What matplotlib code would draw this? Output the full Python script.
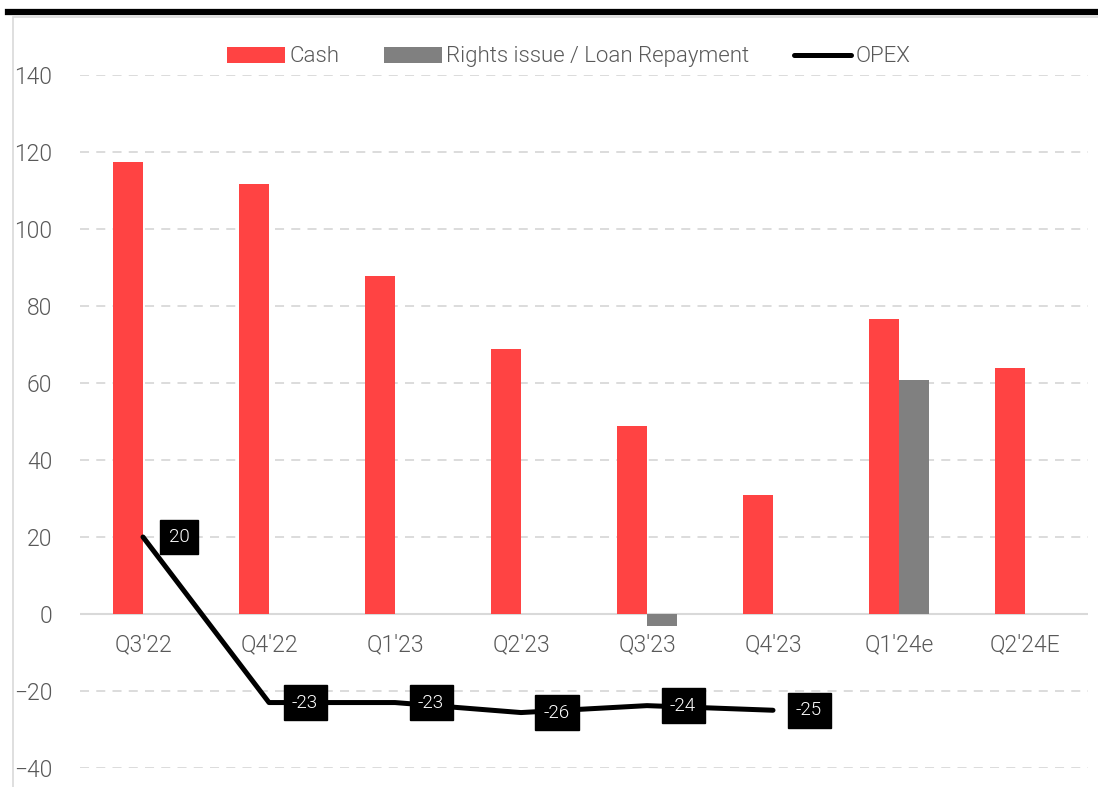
import matplotlib.pyplot as plt
import matplotlib.patches as mpatches
import numpy as np

plt.rcParams['font.family'] = ['Roboto', 'DejaVu Sans']
plt.rcParams['font.weight'] = 300

quarters = ["Q3'22", "Q4'22", "Q1'23", "Q2'23", "Q3'23", "Q4'23", "Q1'24e", "Q2'24E"]
cash = [117.4, 111.7, 87.8, 68.8, 48.8, 30.9, 76.6, 63.9]
rights = [0, 0, 0, 0, -3.1, 0, 60.8, 0]
opex = [20, -23, -23, -25.6, -23.8, -25]

red = "#ff4343"
grey = "#808080"
tick_col = "#595959"

fig = plt.figure(figsize=(10.98, 7.87), dpi=100)

# frame round the chart and the thick rule above it
fig.add_artist(mpatches.Rectangle((13 / 1098, -0.01), 1.0, 1 - 17 / 787 + 0.01,
                                  transform=fig.transFigure, fill=False,
                                  edgecolor="#d9d9d9", linewidth=1.2))
fig.add_artist(plt.Line2D([8 / 1098, 1.0], [1 - 12 / 787, 1 - 12 / 787],
                          transform=fig.transFigure, color="black", linewidth=4.5))

ax = fig.add_axes([80 / 1098, 1 - 768 / 787, 1008 / 1098, (768 - 75) / 787])

x = np.arange(len(quarters))
w = 30 / 126
b1 = ax.bar(x - w / 2, cash, w, color=red, label="Cash", zorder=3)
b2 = ax.bar(x + w / 2, rights, w, color=grey, label="Rights issue / Loan Repayment", zorder=3)
l1, = ax.plot(x[:len(opex)], opex, color="black", linewidth=3.6, label="OPEX",
              solid_capstyle="round", solid_joinstyle="round", zorder=4)

for xi, v in zip(x, opex):
    ax.annotate(f"{v:.0f}", (xi, v), xytext=(36, 0), textcoords="offset pixels",
                ha="center", va="center", color="white", fontsize=13.5,
                bbox=dict(boxstyle="square,pad=0.45", fc="black", ec="black"),
                zorder=5)

ax.set_xlim(-0.5, len(quarters) - 0.5)
ax.set_ylim(-40, 140)
ax.set_yticks(range(-40, 141, 20))
ax.yaxis.grid(True, linestyle=(0, (5, 4)), color="#d9d9d9", linewidth=1.3)
ax.set_axisbelow(True)
ax.axhline(0, color="#d9d9d9", linewidth=1.5, zorder=2)

for s in ax.spines.values():
    s.set_visible(False)
ax.tick_params(axis="both", length=0, labelsize=16.5, labelcolor=tick_col)
ax.tick_params(axis="y", pad=20)
ax.set_xticks([])
for xi, q in zip(x, quarters):
    ax.text(xi, -8, q, ha="center", va="center", fontsize=16.5, color=tick_col)

ax.legend([b1, b2, l1], ["Cash", "Rights issue / Loan Repayment", "OPEX"],
          loc="lower center", bbox_to_anchor=(0.485, 0.982), ncol=3, frameon=False,
          fontsize=16, labelcolor=tick_col, handlelength=2.6, handleheight=0.75,
          handletextpad=0.2, columnspacing=2.0)

fig.savefig("out.png", dpi=100)
